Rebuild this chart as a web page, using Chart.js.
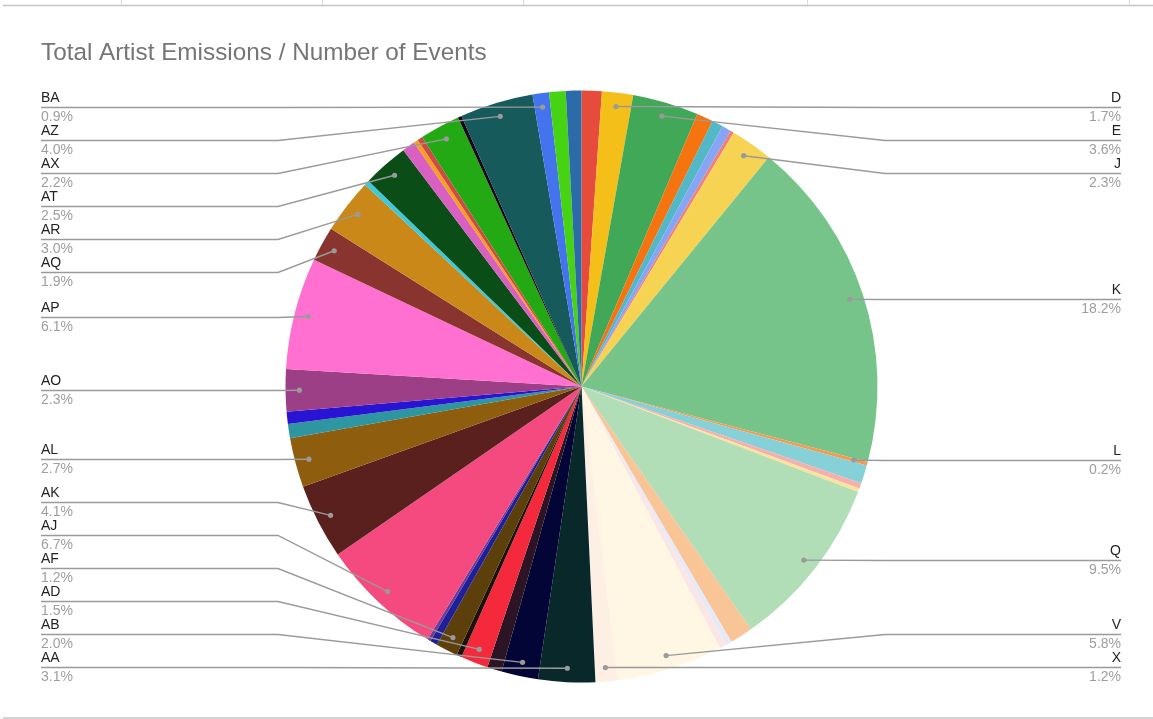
<!DOCTYPE html>
<html>
<head>
<meta charset="utf-8">
<title>Total Artist Emissions / Number of Events</title>
<script src="https://cdn.jsdelivr.net/npm/chart.js@4.4.1/dist/chart.umd.min.js"></script>
<style>
  html, body { margin: 0; padding: 0; background: #ffffff; }
  #wrap { width: 1153px; height: 719px; position: relative; }
</style>
</head>
<body>
<div id="wrap"><canvas id="pie" width="1153" height="719"></canvas></div>
<script>
// Artists, clockwise from 12 o'clock
const categories = [
  'C', 'D', 'E', 'F', 'G', 'H', 'I', 'J', 'K', 'L', 'M', 'N', 'O', 'Q', 'R', 'S', 'T',
  'V', 'X', 'AA', 'AB', 'AC', 'AD', 'AE', 'AF', 'AG', 'AH', 'AJ', 'AK', 'AL', 'AM',
  'AN', 'AO', 'AP', 'AQ', 'AR', 'AS', 'AT', 'AU', 'AV', 'AW', 'AX', 'AY', 'AZ',
  'BA', 'BB', 'BC'
];

// Total artist emissions divided by number of events (share of total, %)
const emissionsPerEvent = [
  1.1, 1.7, 3.6, 0.9, 0.6, 0.5, 0.2, 2.3, 18.2, 0.2, 1.0, 0.3, 0.2, 9.5, 1.25, 0.3, 0.4,
  5.8, 1.2, 3.1, 2.0, 0.8, 1.5, 0.28, 1.2, 0.4, 0.17, 6.7, 4.1, 2.7, 0.78,
  0.66, 2.3, 6.1, 1.9, 3.0, 0.28, 2.5, 0.7, 0.25, 0.28, 2.2, 0.2, 4.0,
  0.9, 0.9, 0.85
];

// Artists that get a callout label
const labeledCategories = [
  'D', 'E', 'J', 'K', 'L', 'Q', 'V', 'X', 'AA', 'AB', 'AD', 'AF', 'AJ', 'AK', 'AL',
  'AO', 'AP', 'AQ', 'AR', 'AT', 'AX', 'AZ', 'BA'
];

const sliceColors = [
  '#E64B3C', '#F5BF1A', '#41A857', '#F5740F', '#52B8C6', '#86A5F5', '#EE8080', '#F6D353',
  '#77C48B', '#F89A4D', '#86D0D8', '#F4B0AE', '#FBE49A', '#B1DEB7', '#F9C496', '#E6E9F8',
  '#FBE6E6', '#FFF6E3', '#FDEFE4', '#08282A', '#020536', '#2C1424', '#F42A3C', '#1C120C',
  '#5D3F0C', '#1F1F9A', '#6A3D9A', '#F44A7F', '#5A201E', '#8E5E0E', '#2E96A0', '#2A14D4',
  '#9D3F86', '#FF70D0', '#8A3430', '#C98818', '#3FC8D8', '#0B4D17', '#D95FC0', '#F5A020',
  '#CF4A44', '#23A913', '#1A0818', '#175A5C', '#4473EE', '#46D314', '#2B6CA8'
];

const TITLE = 'Total Artist Emissions / Number of Events';
const FONT = '"Liberation Sans", Arial, sans-serif';

// White page, sheet grid edges and the title
const frame = {
  id: 'frame',
  beforeDraw(chart) {
    const ctx = chart.ctx;
    ctx.save();
    ctx.fillStyle = '#ffffff';
    ctx.fillRect(0, 0, chart.width, chart.height);
    ctx.strokeStyle = '#c4c4c4';
    ctx.lineWidth = 1.5;
    ctx.beginPath();
    ctx.moveTo(3, 5.5); ctx.lineTo(chart.width, 5.5);
    ctx.moveTo(3, 718); ctx.lineTo(chart.width, 718);
    ctx.stroke();
    ctx.strokeStyle = '#dadada';
    ctx.lineWidth = 1;
    ctx.beginPath();
    [121, 322, 523, 807, 1129].forEach(x => { ctx.moveTo(x + 0.5, 0); ctx.lineTo(x + 0.5, 5); });
    ctx.stroke();
    ctx.fillStyle = '#757575';
    ctx.font = '24.3px ' + FONT;
    ctx.textBaseline = 'alphabetic';
    ctx.fillText(TITLE, 41, 60);
    ctx.restore();
  }
};

// Callout labels with leader lines, stacked on each side of the pie
const callouts = {
  id: 'callouts',
  afterDraw(chart) {
    const ctx = chart.ctx;
    const meta = chart.getDatasetMeta(0);
    const values = chart.data.datasets[0].data;
    const total = values.reduce((a, b) => a + b, 0);
    const left = [], right = [];
    let cx = 0, R = 0;
    meta.data.forEach((arc, i) => {
      const p = arc.getProps(['x', 'y', 'startAngle', 'endAngle', 'outerRadius'], true);
      cx = p.x; R = p.outerRadius;
      if (!labeledCategories.includes(categories[i])) return;
      const mid = (p.startAngle + p.endAngle) / 2;
      const r = p.outerRadius * 0.953;
      const item = {
        name: categories[i],
        pct: (values[i] / total * 100).toFixed(1) + '%',
        px: p.x + Math.cos(mid) * r,
        py: p.y + Math.sin(mid) * r
      };
      (item.px >= p.x ? right : left).push(item);
    });

    const gap = 33, minY = 100, maxY = 667;
    function stack(list) {
      list.sort((a, b) => a.py - b.py);
      let prev = -Infinity;
      list.forEach(it => { it.ly = Math.max(it.py, prev + gap, minY); prev = it.ly; });
      let next = Infinity;
      for (let k = list.length - 1; k >= 0; k--) {
        list[k].ly = Math.min(list[k].ly, next - gap, maxY);
        next = list[k].ly;
      }
    }
    stack(left); stack(right);

    const bendL = cx - R - 7.5, bendR = cx + R + 7.5;
    const textL = 41, textR = 1121;
    ctx.save();
    ctx.strokeStyle = '#9a9a9a';
    ctx.fillStyle = '#9a9a9a';
    ctx.lineWidth = 1.4;
    function draw(it, isLeft) {
      const ly = Math.round(it.ly) + 0.5;
      ctx.beginPath();
      if (isLeft) {
        ctx.moveTo(textL, ly); ctx.lineTo(bendL, ly); ctx.lineTo(it.px, it.py);
      } else {
        ctx.moveTo(textR, ly); ctx.lineTo(bendR, ly); ctx.lineTo(it.px, it.py);
      }
      ctx.stroke();
      ctx.beginPath();
      ctx.arc(it.px, it.py, 2.6, 0, Math.PI * 2);
      ctx.fill();
    }
    left.forEach(it => draw(it, true));
    right.forEach(it => draw(it, false));

    ctx.font = '14px ' + FONT;
    ctx.textBaseline = 'alphabetic';
    function text(it, isLeft) {
      const ly = Math.round(it.ly);
      ctx.textAlign = isLeft ? 'left' : 'right';
      const x = isLeft ? textL : textR;
      ctx.fillStyle = '#222222';
      ctx.fillText(it.name, x, ly - 5);
      ctx.fillStyle = '#9e9e9e';
      ctx.fillText(it.pct, x, ly + 14);
    }
    left.forEach(it => text(it, true));
    right.forEach(it => text(it, false));
    ctx.restore();
  }
};

new Chart(document.getElementById('pie'), {
  type: 'pie',
  data: {
    labels: categories,
    datasets: [{
      data: emissionsPerEvent,
      backgroundColor: sliceColors,
      borderWidth: 0
    }]
  },
  options: {
    responsive: false,
    devicePixelRatio: 1,
    animation: false,
    events: [],
    layout: { padding: { top: 90.5, bottom: 36.5, left: 285.5, right: 275.5 } },
    plugins: {
      legend: { display: false },
      tooltip: { enabled: false },
      title: { display: false }
    }
  },
  plugins: [frame, callouts]
});
</script>
</body>
</html>
